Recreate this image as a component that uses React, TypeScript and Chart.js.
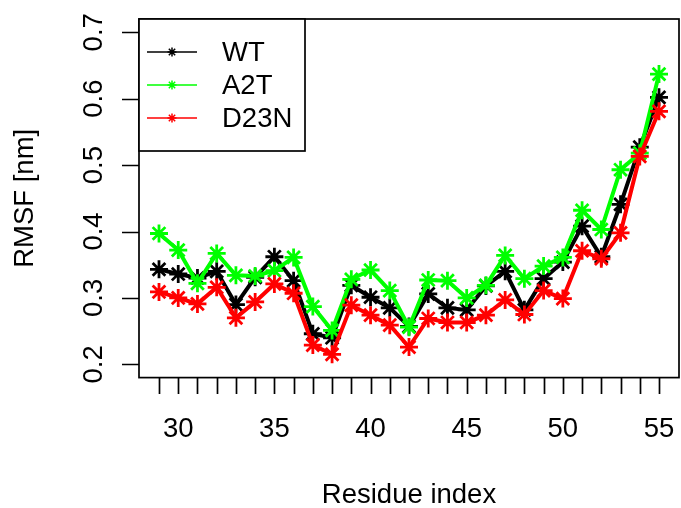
import React, { useEffect, useRef } from "react";
import { Chart, registerables } from "chart.js";

Chart.register(...registerables);

const residues = [29, 30, 31, 32, 33, 34, 35, 36, 37, 38, 39, 40, 41, 42, 43, 44, 45, 46, 47, 48, 49, 50, 51, 52, 53, 54, 55];
const wt = [0.343, 0.336, 0.330, 0.340, 0.290, 0.331, 0.362, 0.326, 0.246, 0.240, 0.319, 0.301, 0.285, 0.257, 0.306, 0.285, 0.282, 0.318, 0.340, 0.282, 0.329, 0.354, 0.408, 0.362, 0.441, 0.527, 0.602];
const a2t = [0.397, 0.372, 0.322, 0.367, 0.334, 0.333, 0.341, 0.361, 0.287, 0.251, 0.328, 0.342, 0.311, 0.256, 0.327, 0.326, 0.300, 0.319, 0.364, 0.329, 0.348, 0.361, 0.432, 0.403, 0.493, 0.518, 0.637];
const d23n = [0.309, 0.300, 0.291, 0.316, 0.270, 0.294, 0.321, 0.307, 0.229, 0.215, 0.289, 0.274, 0.259, 0.226, 0.269, 0.263, 0.263, 0.274, 0.297, 0.275, 0.311, 0.299, 0.371, 0.359, 0.398, 0.513, 0.581];
const seriesNames = ["WT", "A2T", "D23N"];
const seriesColors = ["#000000", "#00ff00", "#ff0000"];
const xTickValues = residues;
const xTickLabels = ["30", "35", "40", "45", "50", "55"];
const yTickLabels = ["0.2", "0.3", "0.4", "0.5", "0.6", "0.7"];
const xTitle = "Residue index";
const yTitle = "RMSF [nm]";

const FONT = '27.5px "Liberation Sans", Arial, sans-serif';

function drawStar(ctx: CanvasRenderingContext2D, x: number, y: number, r: number) {
  ctx.beginPath();
  ctx.moveTo(x - r, y);
  ctx.lineTo(x + r, y);
  ctx.moveTo(x, y - r);
  ctx.lineTo(x, y + r);
  const d = r * Math.SQRT1_2;
  ctx.moveTo(x - d, y - d);
  ctx.lineTo(x + d, y + d);
  ctx.moveTo(x - d, y + d);
  ctx.lineTo(x + d, y - d);
  ctx.stroke();
}

const rAxesPlugin = {
  id: "rAxes",
  afterDraw(chart: any) {
    const ctx: CanvasRenderingContext2D = chart.ctx;
    const { left, right, top, bottom } = chart.chartArea;
    const xs = chart.scales.x;
    const ys = chart.scales.y;
    ctx.save();
    ctx.strokeStyle = "#000";
    ctx.fillStyle = "#000";
    ctx.lineWidth = 1.7;
    ctx.lineCap = "butt";
    // box
    ctx.strokeRect(left, top, right - left, bottom - top);
    // x ticks
    ctx.beginPath();
    xTickValues.forEach((v) => {
      const px = Math.round(xs.getPixelForValue(v)) + 0.5;
      ctx.moveTo(px, bottom);
      ctx.lineTo(px, bottom + 16.5);
    });
    // y ticks
    yTickLabels.forEach((l) => {
      const py = Math.round(ys.getPixelForValue(parseFloat(l))) + 0.5;
      ctx.moveTo(left, py);
      ctx.lineTo(left - 17, py);
    });
    ctx.stroke();
    ctx.font = FONT;
    // x tick labels
    ctx.textAlign = "center";
    ctx.textBaseline = "alphabetic";
    xTickLabels.forEach((l) => {
      const px = xs.getPixelForValue(parseFloat(l));
      ctx.fillText(l, px, 436.5);
    });
    // y tick labels (rotated)
    yTickLabels.forEach((l) => {
      const py = ys.getPixelForValue(parseFloat(l));
      ctx.save();
      ctx.translate(101.5, py);
      ctx.rotate(-Math.PI / 2);
      ctx.fillText(l, 0, 0);
      ctx.restore();
    });
    // titles
    ctx.fillText(xTitle, (left + right) / 2, 503);
    ctx.save();
    ctx.translate(33, (top + bottom) / 2);
    ctx.rotate(-Math.PI / 2);
    ctx.fillText(yTitle, 0, 0);
    ctx.restore();
    // legend
    const lx0 = left, ly0 = top, lx1 = 305, ly1 = 151;
    ctx.fillStyle = "#fff";
    ctx.fillRect(lx0, ly0, lx1 - lx0, ly1 - ly0);
    ctx.strokeStyle = "#000";
    ctx.lineWidth = 1.7;
    ctx.strokeRect(lx0, ly0, lx1 - lx0, ly1 - ly0);
    const rows = [52, 85, 118];
    chart.data.datasets.forEach((ds: any, i: number) => {
      const y = rows[i];
      ctx.strokeStyle = ds.borderColor;
      ctx.lineWidth = 1.7;
      ctx.beginPath();
      ctx.moveTo(147, y);
      ctx.lineTo(197, y);
      ctx.stroke();
      ctx.lineWidth = 1.5;
      drawStar(ctx, 172, y, 4.5);
      ctx.fillStyle = "#000";
      ctx.textAlign = "left";
      ctx.textBaseline = "middle";
      ctx.fillText(ds.label, 222, y + 1);
    });
    ctx.restore();
  },
};

export default function App() {
  const ref = useRef<HTMLCanvasElement | null>(null);
  useEffect(() => {
    if (!ref.current) return;
    const series = [wt, a2t, d23n];
    const chart = new Chart(ref.current, {
      type: "line",
      data: {
        datasets: series.map((vals, i) => ({
          label: seriesNames[i],
          data: residues.map((x, j) => ({ x, y: vals[j] })),
          borderColor: seriesColors[i],
          backgroundColor: seriesColors[i],
          borderWidth: 4,
          pointStyle: "star",
          pointRadius: 9,
          pointBorderWidth: 2.8,
          pointBorderColor: seriesColors[i],
          tension: 0,
          fill: false,
          order: 3 - i,
        })),
      },
      options: {
        responsive: false,
        animation: false,
        devicePixelRatio: 1,
        layout: { autoPadding: false, padding: { left: 139, top: 19, right: 2, bottom: 130.4 } },
        plugins: { legend: { display: false }, tooltip: { enabled: false } },
        scales: {
          x: { type: "linear", min: 27.96, max: 56.04, display: false },
          y: { type: "linear", min: 0.18, max: 0.72, display: false },
        },
      },
      plugins: [rAxesPlugin],
    });
    return () => chart.destroy();
  }, []);
  return (
    <div style={{ position: "fixed", left: 0, top: 0, width: 681, height: 508, background: "#fff" }}>
      <canvas ref={ref} width={681} height={508} />
    </div>
  );
}
